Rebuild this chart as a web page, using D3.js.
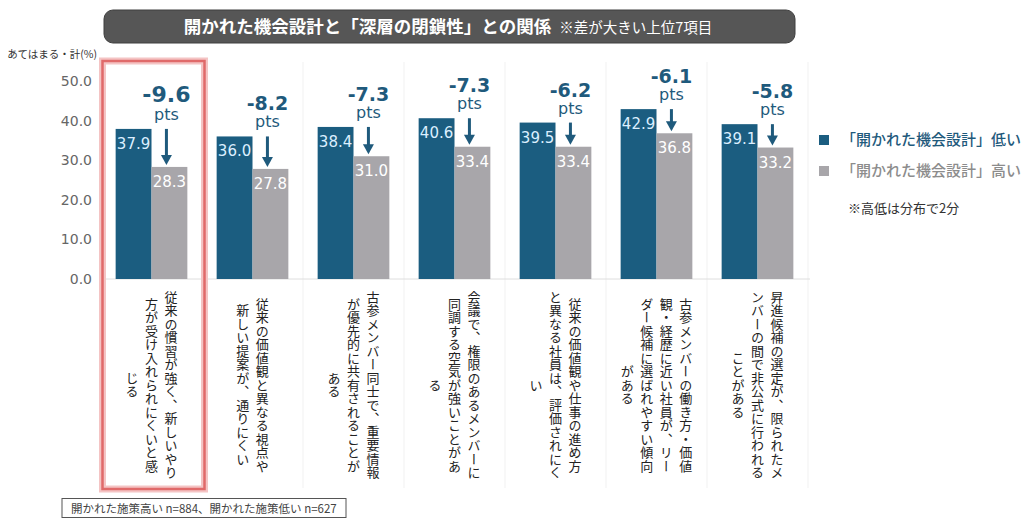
<!DOCTYPE html>
<html>
<head>
<meta charset="utf-8">
<script src="https://cdn.jsdelivr.net/npm/d3@7"></script>
<style>
  body { margin: 0; background: #fff; }
  svg { display: block; }
</style>
</head>
<body>
<div id="chart"></div>
<script>
// data
const categoryLines = [
  ["従来の慣習が強く、新しいやり", "方が受け入れられにくいと感", "じる"],
  ["従来の価値観と異なる視点や", "新しい提案が、通りにくい"],
  ["古参メンバー同士で、重要情報", "が優先的に共有されることが", "ある"],
  ["会議で、権限のあるメンバーに", "同調する空気が強いことがあ", "る"],
  ["従来の価値観や仕事の進め方", "と異なる社員は、評価されにく", "い"],
  ["古参メンバーの働き方・価値", "観・経歴に近い社員が、リー", "ダー候補に選ばれやすい傾向", "がある"],
  ["昇進候補の選定が、限られたメ", "ンバーの間で非公式に行われる", "ことがある"]
];
const lowValues = [37.9, 36.0, 38.4, 40.6, 39.5, 42.9, 39.1];
const highValues = [28.3, 27.8, 31.0, 33.4, 33.4, 36.8, 33.2];
const diffLabels = ["-9.6", "-8.2", "-7.3", "-7.3", "-6.2", "-6.1", "-5.8"];
const seriesNames = ["「開かれた機会設計」低い", "「開かれた機会設計」高い"];
const yTicks = [0, 10, 20, 30, 40, 50];

const titleText = "開かれた機会設計と「深層の閉鎖性」との関係";
const subtitleText = "※差が大きい上位7項目";
const yAxisTitle = "あてはまる・計(%)";
const legendNote = "※高低は分布で2分";
const footnote = "開かれた施策高い n=884、開かれた施策低い n=627";

// settings
const width = 1030, height = 530;
const colorLow = "#1b5d80";
const colorHigh = "#a8a6aa";
const colorAccent = "#1f5a7c";
const jpFont = "'Noto Sans CJK JP', 'Noto Sans', sans-serif";
const numFont = "'DejaVu Sans', sans-serif";

const data = categoryLines.map((lines, i) => ({
  key: "c" + i,
  lines,
  low: lowValues[i],
  high: highValues[i],
  diff: diffLabels[i]
}));

const svg = d3.select("#chart").append("svg")
  .attr("width", width)
  .attr("height", height);

// scales
const scaleX = d3.scaleBand()
  .domain(data.map(d => d.key))
  .range([101, 808])
  .paddingInner(0.29)
  .paddingOuter(0.145);
const scaleSub = d3.scaleBand()
  .domain(["low", "high"])
  .range([0, scaleX.bandwidth()]);
const scaleY = d3.scaleLinear()
  .domain([0, 50])
  .range([279, 81]);
const step = scaleX.step();

// title
const groupTitle = svg.append("g").attr("class", "groupTitle");
groupTitle.append("rect")
  .attr("x", 104).attr("y", 10)
  .attr("width", 691).attr("height", 33)
  .attr("rx", 9)
  .attr("fill", "#565656")
  .attr("stroke", "#3f3f3f");
const titleEl = groupTitle.append("text")
  .attr("x", 448).attr("y", 33)
  .attr("text-anchor", "middle")
  .attr("fill", "#fff")
  .style("font-family", jpFont);
titleEl.append("tspan")
  .style("font-size", "17.5px")
  .style("font-weight", 700)
  .text(titleText);
titleEl.append("tspan")
  .attr("dx", 8)
  .style("font-size", "14.5px")
  .text(subtitleText);

// panel separators
svg.append("g").attr("class", "groupPanels")
  .selectAll("line")
  .data(data)
  .join("line")
  .attr("x1", d => scaleX(d.key) + scaleX.bandwidth() / 2 + step / 2)
  .attr("x2", d => scaleX(d.key) + scaleX.bandwidth() / 2 + step / 2)
  .attr("y1", 62).attr("y2", 488)
  .attr("stroke", "#f1f1f1");

// zero line
svg.append("line")
  .attr("x1", 100).attr("x2", 810)
  .attr("y1", scaleY(0)).attr("y2", scaleY(0))
  .attr("stroke", "#dedede");

// y axis
const groupAxisY = svg.append("g")
  .attr("class", "groupAxisY")
  .attr("transform", "translate(100,0)");
groupAxisY.call(d3.axisLeft(scaleY).tickValues(yTicks).tickFormat(d3.format(".1f")).tickSize(0).tickPadding(8))
  .call(g => g.select(".domain").remove())
  .call(g => g.selectAll("text")
    .attr("fill", "#666")
    .style("font-family", numFont)
    .style("font-size", "14px"));

svg.append("text")
  .attr("x", 97).attr("y", 58)
  .attr("text-anchor", "end")
  .attr("fill", "#333")
  .style("font-family", jpFont)
  .style("font-size", "10.5px")
  .text(yAxisTitle);

// bars
const groupBars = svg.append("g").attr("class", "groupBars");
const cat = groupBars.selectAll("g")
  .data(data)
  .join("g")
  .attr("transform", d => `translate(${scaleX(d.key)},0)`);

cat.append("rect")
  .attr("x", scaleSub("low"))
  .attr("width", scaleSub.bandwidth())
  .attr("y", d => scaleY(d.low))
  .attr("height", d => scaleY(0) - scaleY(d.low))
  .attr("fill", colorLow);
cat.append("rect")
  .attr("x", scaleSub("high"))
  .attr("width", scaleSub.bandwidth())
  .attr("y", d => scaleY(d.high))
  .attr("height", d => scaleY(0) - scaleY(d.high))
  .attr("fill", colorHigh);

cat.append("text")
  .attr("x", scaleSub("low") + scaleSub.bandwidth() / 2)
  .attr("y", d => scaleY(d.low) + 20)
  .attr("text-anchor", "middle")
  .attr("fill", "#dcefff")
  .style("font-family", numFont)
  .style("font-size", "15px")
  .text(d => d.low.toFixed(1));
cat.append("text")
  .attr("x", scaleSub("high") + scaleSub.bandwidth() / 2)
  .attr("y", d => scaleY(d.high) + 20)
  .attr("text-anchor", "middle")
  .attr("fill", "#fff")
  .style("font-family", numFont)
  .style("font-size", "15px")
  .text(d => d.high.toFixed(1));

// difference annotations
const ax = scaleSub("high") + scaleSub.bandwidth() / 2 - 3;
cat.append("line")
  .attr("x1", ax).attr("x2", ax)
  .attr("y1", d => scaleY(d.low))
  .attr("y2", d => scaleY(d.high) - 9)
  .attr("stroke", colorAccent)
  .attr("stroke-width", 3);
cat.append("path")
  .attr("d", d => {
    const yb = scaleY(d.high) - 2;
    return `M${ax - 5.5},${yb - 10}L${ax + 5.5},${yb - 10}L${ax},${yb}Z`;
  })
  .attr("fill", colorAccent);
cat.append("text")
  .attr("x", ax)
  .attr("y", d => scaleY(d.low) - 9)
  .attr("text-anchor", "middle")
  .attr("fill", colorAccent)
  .style("font-family", numFont)
  .style("font-size", "16px")
  .text("pts");
cat.append("text")
  .attr("x", ax)
  .attr("y", (d, i) => scaleY(d.low) - (i === 0 ? 27 : 26))
  .attr("text-anchor", "middle")
  .attr("fill", colorAccent)
  .style("font-family", numFont)
  .style("font-weight", 700)
  .style("font-size", (d, i) => i === 0 ? "22px" : "19px")
  .text(d => d.diff);

// category labels (vertical)
const colGap = 19.5;
cat.each(function (d) {
  const cx = scaleX.bandwidth() / 2;
  const n = d.lines.length;
  d3.select(this).selectAll("text.label")
    .data(d.lines)
    .join("text")
    .attr("class", "label")
    .attr("x", (l, i) => cx + ((n - 1) / 2 - i) * colGap)
    .attr("y", 385)
    .attr("text-anchor", "middle")
    .attr("fill", "#222")
    .style("writing-mode", "vertical-rl")
    .style("font-family", jpFont)
    .style("font-size", "13px")
    .style("letter-spacing", "0.5px")
    .text(l => l);
});

// highlight box on the first item
const first = data[0];
const hx = scaleX(first.key) + scaleX.bandwidth() / 2;
svg.append("rect")
  .attr("x", hx - 49).attr("y", 61)
  .attr("width", 102).attr("height", 428)
  .attr("fill", "none")
  .attr("stroke", "#f4c4c4")
  .attr("stroke-width", 7);
svg.append("rect")
  .attr("x", hx - 49).attr("y", 61)
  .attr("width", 102).attr("height", 428)
  .attr("fill", "none")
  .attr("stroke", "#e06a6a")
  .attr("stroke-width", 2.5);

// legend
const groupLegend = svg.append("g")
  .attr("class", "groupLegend")
  .attr("transform", "translate(819,140)");
const legendItems = groupLegend.selectAll("g")
  .data(seriesNames)
  .join("g")
  .attr("transform", (d, i) => `translate(0,${i * 31})`);
legendItems.append("rect")
  .attr("x", 0).attr("y", -5)
  .attr("width", 10).attr("height", 10)
  .attr("fill", (d, i) => i === 0 ? colorLow : colorHigh);
legendItems.append("text")
  .attr("x", 22).attr("y", 0)
  .attr("dy", "0.35em")
  .attr("fill", (d, i) => i === 0 ? colorAccent : "#8c8c8c")
  .style("font-family", jpFont)
  .style("font-size", "15px")
  .style("font-weight", 500)
  .text(d => d);
groupLegend.append("text")
  .attr("x", 29).attr("y", 68)
  .attr("dy", "0.35em")
  .attr("fill", "#333")
  .style("font-family", jpFont)
  .style("font-size", "13px")
  .text(legendNote);

// footnote
svg.append("rect")
  .attr("x", 62).attr("y", 498.5)
  .attr("width", 284).attr("height", 19)
  .attr("fill", "#fff")
  .attr("stroke", "#555");
svg.append("text")
  .attr("x", 71).attr("y", 512.5)
  .attr("fill", "#444")
  .style("font-family", jpFont)
  .style("font-size", "11.5px")
  .text(footnote);
</script>
</body>
</html>
